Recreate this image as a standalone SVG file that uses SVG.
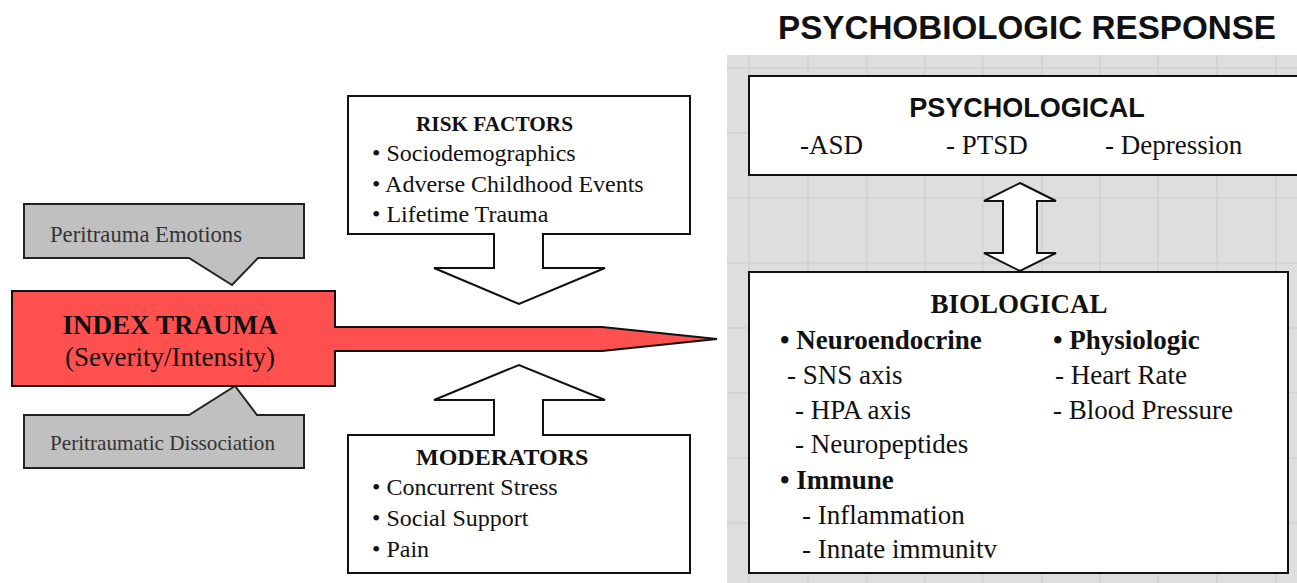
<svg xmlns="http://www.w3.org/2000/svg" width="1297" height="583" viewBox="0 0 1297 583">
<style>
.serif{font-family:"Liberation Serif","Times New Roman",serif;fill:#111}
.sans{font-family:"Liberation Sans",Arial,sans-serif;fill:#111;font-weight:bold}
.b{font-weight:bold}
.box{fill:#fff;stroke:#111;stroke-width:2}
.gbox{fill:#c0c0c0;stroke:#222;stroke-width:2}
.grid{stroke:#cbcbcb;stroke-width:1}
.g{fill:#333}
</style>
<rect width="1297" height="583" fill="#fff"/>
<g id="panel">
<rect x="727" y="55" width="570" height="528" fill="#dedede"/>
<g class="grid">
<line x1="749" y1="55" x2="749" y2="583"/><line x1="808" y1="55" x2="808" y2="583"/><line x1="867" y1="55" x2="867" y2="583"/><line x1="925" y1="55" x2="925" y2="583"/><line x1="983" y1="55" x2="983" y2="583"/><line x1="1042" y1="55" x2="1042" y2="583"/><line x1="1100" y1="55" x2="1100" y2="583"/><line x1="1158" y1="55" x2="1158" y2="583"/><line x1="1217" y1="55" x2="1217" y2="583"/><line x1="1276" y1="55" x2="1276" y2="583"/>
<line x1="727" y1="68" x2="1297" y2="68"/><line x1="727" y1="133" x2="1297" y2="133"/><line x1="727" y1="198" x2="1297" y2="198"/><line x1="727" y1="263" x2="1297" y2="263"/><line x1="727" y1="328" x2="1297" y2="328"/><line x1="727" y1="393" x2="1297" y2="393"/><line x1="727" y1="458" x2="1297" y2="458"/><line x1="727" y1="523" x2="1297" y2="523"/>
</g>
</g>
<text class="sans" x="1027" y="39" font-size="33" text-anchor="middle" textLength="498" lengthAdjust="spacingAndGlyphs">PSYCHOBIOLOGIC RESPONSE</text>
<g id="peritrauma-emotions">
<path class="gbox" d="M24,204 H304 V258 H258 L232,285 L189,258 H24 Z"/>
<text class="serif g" x="50" y="242" font-size="23" textLength="192" lengthAdjust="spacingAndGlyphs">Peritrauma Emotions</text>
</g>
<g id="peritraumatic-dissociation">
<path class="gbox" d="M24,415 H189 L235,386 L257,415 H304 V468 H24 Z"/>
<text class="serif g" x="50" y="450" font-size="22" textLength="225" lengthAdjust="spacingAndGlyphs">Peritraumatic Dissociation</text>
</g>
<g id="index-trauma">
<path d="M12,291 H335 V327 H602 L717,339 L602,351 H335 V386 H12 Z" fill="#ff5050" stroke="#111" stroke-width="2"/>
<text class="serif b" x="170" y="334" font-size="28" text-anchor="middle" textLength="215" lengthAdjust="spacingAndGlyphs">INDEX TRAUMA</text>
<text class="serif" x="170" y="366" font-size="27" text-anchor="middle">(Severity/Intensity)</text>
</g>
<g id="risk-factors">
<path class="box" d="M348,96 H690 V234 H543 V268 H605 L519,304 L434,268 H494 V234 H348 Z"/>
<text class="serif b" x="416" y="131" font-size="20" textLength="157" lengthAdjust="spacingAndGlyphs">RISK FACTORS</text>
<text class="serif" x="372" y="161" font-size="24">• Sociodemographics</text>
<text class="serif" x="372" y="192" font-size="24">• Adverse Childhood Events</text>
<text class="serif" x="372" y="222" font-size="24">• Lifetime Trauma</text>
</g>
<g id="moderators">
<path class="box" d="M348,435 H494 V400 H434 L519,365 L605,400 H543 V435 H690 V573 H348 Z"/>
<text class="serif b" x="416" y="465" font-size="24">MODERATORS</text>
<text class="serif" x="372" y="495" font-size="24">• Concurrent Stress</text>
<text class="serif" x="372" y="526" font-size="24">• Social Support</text>
<text class="serif" x="372" y="557" font-size="24">• Pain</text>
</g>
<g id="psychological">
<rect class="box" x="749" y="76" width="570" height="99"/>
<text class="sans" x="1027" y="117" font-size="27" text-anchor="middle">PSYCHOLOGICAL</text>
<text class="serif" x="800" y="154" font-size="27">-ASD</text>
<text class="serif" x="946" y="154" font-size="27">- PTSD</text>
<text class="serif" x="1105" y="154" font-size="27">- Depression</text>
</g>
<g id="connectors">
<path d="M1020,183 L1056,201 H1037 V253 H1056 L1020,271 L984,253 H1003 V201 H984 Z" fill="#fff" stroke="#111" stroke-width="2"/>
</g>
<g id="biological">
<rect class="box" x="749" y="272" width="539" height="301"/>
<text class="serif b" x="1019" y="313" font-size="27" text-anchor="middle">BIOLOGICAL</text>
<text class="serif b" x="780" y="349" font-size="27">• Neuroendocrine</text>
<text class="serif" x="787" y="384" font-size="27">- SNS axis</text>
<text class="serif" x="795" y="419" font-size="27">- HPA axis</text>
<text class="serif" x="795" y="453" font-size="27">- Neuropeptides</text>
<text class="serif b" x="780" y="489" font-size="27">• Immune</text>
<text class="serif" x="802" y="524" font-size="27">- Inflammation</text>
<text class="serif" x="802" y="558" font-size="27">- Innate immunitv</text>
<text class="serif b" x="1053" y="349" font-size="27">• Physiologic</text>
<text class="serif" x="1055" y="384" font-size="27">- Heart Rate</text>
<text class="serif" x="1053" y="419" font-size="27">- Blood Pressure</text>
</g>
</svg>
